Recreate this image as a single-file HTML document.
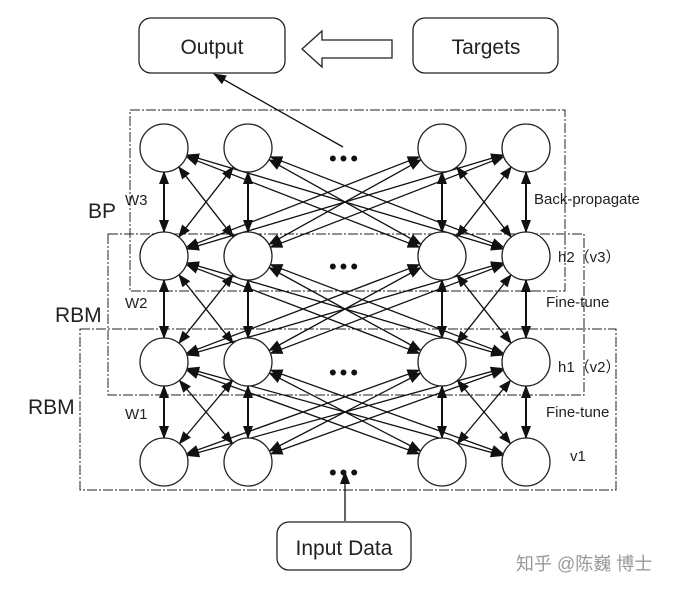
<!DOCTYPE html>
<html><head><meta charset="utf-8"><style>
html,body{margin:0;padding:0;background:#fff;}
svg{display:block;font-family:"Liberation Sans","DejaVu Sans",sans-serif;}
</style></head><body>
<svg id="s" width="686" height="589" viewBox="0 0 686 589" xmlns="http://www.w3.org/2000/svg">
<defs>
<marker id="ah" markerWidth="13" markerHeight="10" refX="12" refY="5" orient="auto-start-reverse" markerUnits="userSpaceOnUse"><path d="M0,0 L13,5 L0,10 z" fill="#111"/></marker>
</defs>
<rect width="686" height="589" fill="#fff"/>
<rect x="139" y="18" width="146" height="55" rx="12" fill="none" stroke="#222" stroke-width="1.3"/>
<text x="212" y="54" font-size="21" text-anchor="middle" fill="#222">Output</text>
<rect x="413" y="18" width="145" height="55" rx="12" fill="none" stroke="#222" stroke-width="1.3"/>
<text x="486" y="54" font-size="21" text-anchor="middle" fill="#222">Targets</text>
<path d="M302,49 L322,31 L322,40 L392,40 L392,58 L322,58 L322,67 Z" fill="none" stroke="#222" stroke-width="1.3"/>
<line x1="343" y1="147" x2="214" y2="74" stroke="#111" stroke-width="1.3" marker-end="url(#ah)"/>
<rect x="130" y="110" width="435" height="181" fill="none" stroke="#222" stroke-width="1" stroke-dasharray="10,2,2,2"/>
<rect x="108" y="234" width="476" height="161" fill="none" stroke="#222" stroke-width="1" stroke-dasharray="10,2,2,2"/>
<rect x="80" y="329" width="536" height="161" fill="none" stroke="#222" stroke-width="1" stroke-dasharray="10,2,2,2"/>
<g id="lines" stroke="#111" stroke-width="1.3" fill="none"></g>
<g id="nodes"></g>
<g fill="#111">
<text x="345" y="166" font-size="22" text-anchor="middle" letter-spacing="3">•••</text>
</g>
<g font-size="15" fill="#222">
<text x="125" y="205">W3</text>
<text x="125" y="308">W2</text>
<text x="125" y="419">W1</text>
<text x="534" y="204">Back-propagate</text>
<text x="558" y="262">h2（v3）</text>
<text x="546" y="307">Fine-tune</text>
<text x="558" y="372">h1（v2）</text>
<text x="546" y="417">Fine-tune</text>
<text x="570" y="461">v1</text>
</g>
<g font-size="21" fill="#222">
<text x="88" y="218">BP</text>
<text x="55" y="322">RBM</text>
<text x="28" y="414">RBM</text>
</g>
<line x1="345" y1="521" x2="345" y2="472" stroke="#111" stroke-width="1.3" marker-end="url(#ah)"/>
<rect x="277" y="522" width="134" height="48" rx="12" fill="none" stroke="#222" stroke-width="1.3"/>
<text x="344" y="555" font-size="21" text-anchor="middle" fill="#222">Input Data</text>
<text x="516" y="570" font-size="18" fill="#999" font-family="'Liberation Sans','Noto Sans CJK SC',sans-serif">知乎 @陈巍 博士</text>
</svg>
<script>
var xs=[164,248,442,526], ys=[148,256,362,462], r=24, ns="http://www.w3.org/2000/svg";
var L=document.getElementById('lines'), N=document.getElementById('nodes'), S=document.getElementById('s');
for(var k=0;k<3;k++){
 for(var i=0;i<4;i++)for(var j=0;j<4;j++){
  var x1=xs[i],y1=ys[k],x2=xs[j],y2=ys[k+1],dx=x2-x1,dy=y2-y1,d=Math.hypot(dx,dy);
  var l=document.createElementNS(ns,'line');
  l.setAttribute('x1',x1+dx/d*r);l.setAttribute('y1',y1+dy/d*r);
  l.setAttribute('x2',x2-dx/d*r);l.setAttribute('y2',y2-dy/d*r);
  l.setAttribute('marker-end','url(#ah)');l.setAttribute('marker-start','url(#ah)');
  if(i==j)l.setAttribute('stroke-width','2');
  L.appendChild(l);
 }
}
for(var k=0;k<4;k++){
 for(var i=0;i<4;i++){
  var c=document.createElementNS(ns,'circle');
  c.setAttribute('cx',xs[i]);c.setAttribute('cy',ys[k]);c.setAttribute('r',r);
  c.setAttribute('fill','#fff');c.setAttribute('stroke','#222');c.setAttribute('stroke-width','1.3');
  N.appendChild(c);
 }
 if(k>0){
  var t=document.createElementNS(ns,'text');
  t.setAttribute('x',345);t.setAttribute('y',ys[k]+18);t.setAttribute('font-size','22');
  t.setAttribute('text-anchor','middle');t.setAttribute('fill','#111');t.setAttribute('letter-spacing','3');
  t.textContent='•••';S.appendChild(t);
 }
}
</script>
</body></html>
